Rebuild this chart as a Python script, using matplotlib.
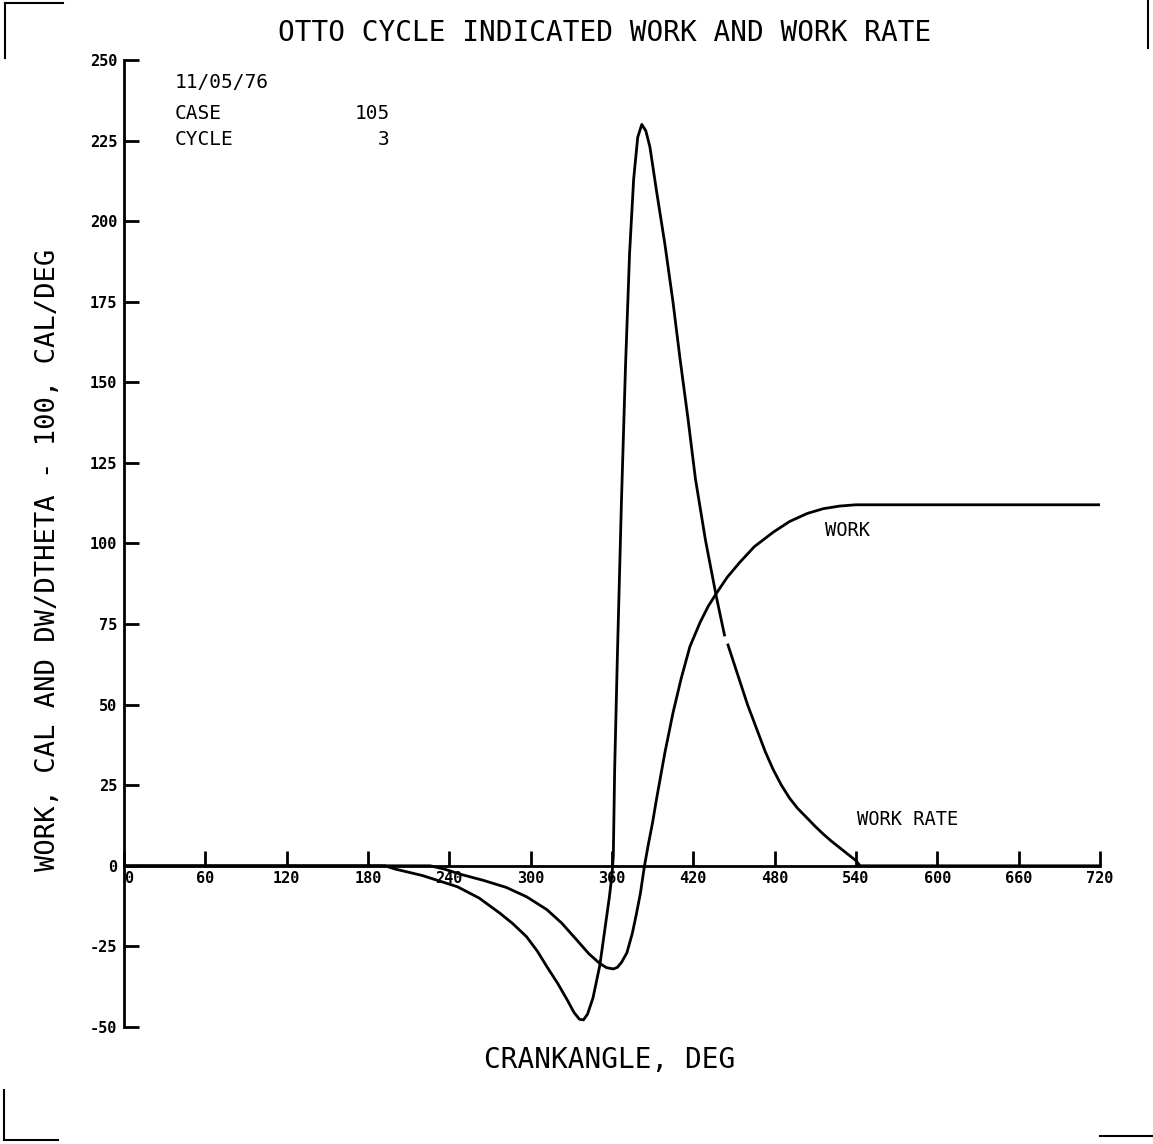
import numpy as np
from matplotlib import pyplot as plt
from matplotlib.lines import Line2D

# crank angle (deg) and indicated work (cal)
angle_work = [0, 180, 226, 237, 248, 265, 282, 297, 312, 323, 334, 343, 351, 356, 361, 364, 367, 371, 375,
              378, 381, 384, 387, 390, 393, 399, 405, 411, 417.5, 425, 431, 437, 445, 454, 465, 479, 491,
              504, 516, 528, 540, 552, 600, 720]
work = [0, 0, 0, -1.1, -2.6, -4.5, -6.7, -9.6, -13.6, -17.8, -23, -27.3, -30.3, -31.6, -32, -31.5, -30, -27, -21,
        -15, -8.5, 0, 7, 13.5, 21, 35, 47.4, 58, 68, 75.5, 80.5, 84.5, 89.5, 94, 99, 103.5, 106.8,
        109.3, 110.8, 111.6, 112, 112, 112, 112]

# crank angle (deg) and work rate (dW/dtheta * 100); nan = pen lift
angle_rate = [0, 180, 192.5, 200, 220, 246, 262, 277, 287, 297, 305, 312, 320, 327, 332, 336, 339, 342, 346, 351,
              355, 358, 360, 361, 362, 364, 367, 370, 373, 376, 379, 382, 385, 388, 393, 399, 405, 410, 416,
              421.6, 429, 437, 443, 444, 445.6, 454, 460, 467, 473, 479, 485, 491, 497, 504, 510, 516, 522,
              528, 534, 540, 543, 600, 720]
rate = [0, 0, 0, -1, -3, -6.5, -10, -14.6, -18, -22, -26.5, -31.3, -36.5, -41.6, -45.5, -47.6, -47.8, -46, -41, -31,
        -19, -10, -3, 3, 30, 65, 113, 155, 190, 213, 226, 230, 228, 223, 209, 193, 175, 158, 139,
        120, 101, 83.5, 71.6, np.nan, 68.5, 57.7, 50, 42.2, 35.5, 29.8, 25, 21, 17.8, 14.8, 12.2, 9.8, 7.6,
        5.6, 3.6, 1.6, 0, 0, 0]

xticks = [0, 60, 120, 180, 240, 300, 360, 420, 480, 540, 600, 660, 720]
yticks = [-50, -25, 0, 25, 50, 75, 100, 125, 150, 175, 200, 225, 250]

plt.rcParams['font.family'] = 'DejaVu Sans Mono'

fig = plt.figure(figsize=(11.53, 11.44), dpi=100)
ax = fig.add_axes([0.1075, 0.1023, 0.8465, 0.8453])

ax.plot(angle_work, work, color='black', lw=2)
ax.plot(angle_rate, rate, color='black', lw=2)

ax.set_xlim(0, 720)
ax.set_ylim(-50, 250)
ax.spines['top'].set_visible(False)
ax.spines['right'].set_visible(False)
ax.spines['bottom'].set_position(('data', 0))
ax.spines['bottom'].set_linewidth(2)
ax.spines['left'].set_linewidth(2)

ax.set_xticks(xticks)
ax.set_xticklabels([str(v) for v in xticks])
ax.set_yticks(yticks)
ax.set_yticklabels([str(v) for v in yticks])
ax.tick_params(axis='x', direction='in', length=11, width=2, pad=4, labelsize=11)
ax.tick_params(axis='y', direction='in', length=11, width=2, pad=5, labelsize=11)
for lab in ax.get_xticklabels() + ax.get_yticklabels():
    lab.set_fontweight('bold')
ax.get_xticklabels()[0].set_horizontalalignment('left')

ax.text(37.6, 243, '11/05/76', fontsize=14, va='center')
ax.text(37.6, 233.5, 'CASE', fontsize=14, va='center')
ax.text(196, 233.5, '105', fontsize=14, va='center', ha='right')
ax.text(37.6, 225.2, 'CYCLE', fontsize=14, va='center')
ax.text(196, 225.2, '3', fontsize=14, va='center', ha='right')

ax.text(517, 104, 'WORK', fontsize=13.5, va='center')
ax.text(541, 14.3, 'WORK RATE', fontsize=13.5, va='center')

fig.text(0.524, 0.971, 'OTTO CYCLE INDICATED WORK AND WORK RATE', fontsize=20, ha='center', va='center')
fig.text(0.529, 0.0734, 'CRANKANGLE, DEG', fontsize=20, ha='center', va='center')
fig.text(0.0416, 0.511, 'WORK, CAL AND DW/DTHETA - 100, CAL/DEG', fontsize=19.5, ha='center', va='center',
         rotation=90)

# crop marks
W, H = 1153.0, 1144.0
marks = [([5, 63], [3, 3]), ([5, 5], [3, 58]),
         ([1148, 1148], [0, 48]),
         ([4, 4], [1090, 1140]), ([4, 58], [1140, 1140]),
         ([1100, 1153], [1136, 1136])]
for xs, ys in marks:
    fig.add_artist(Line2D([v / W for v in xs], [1 - v / H for v in ys], color='black', lw=1.5))

fig.savefig('out.png', dpi=100)
